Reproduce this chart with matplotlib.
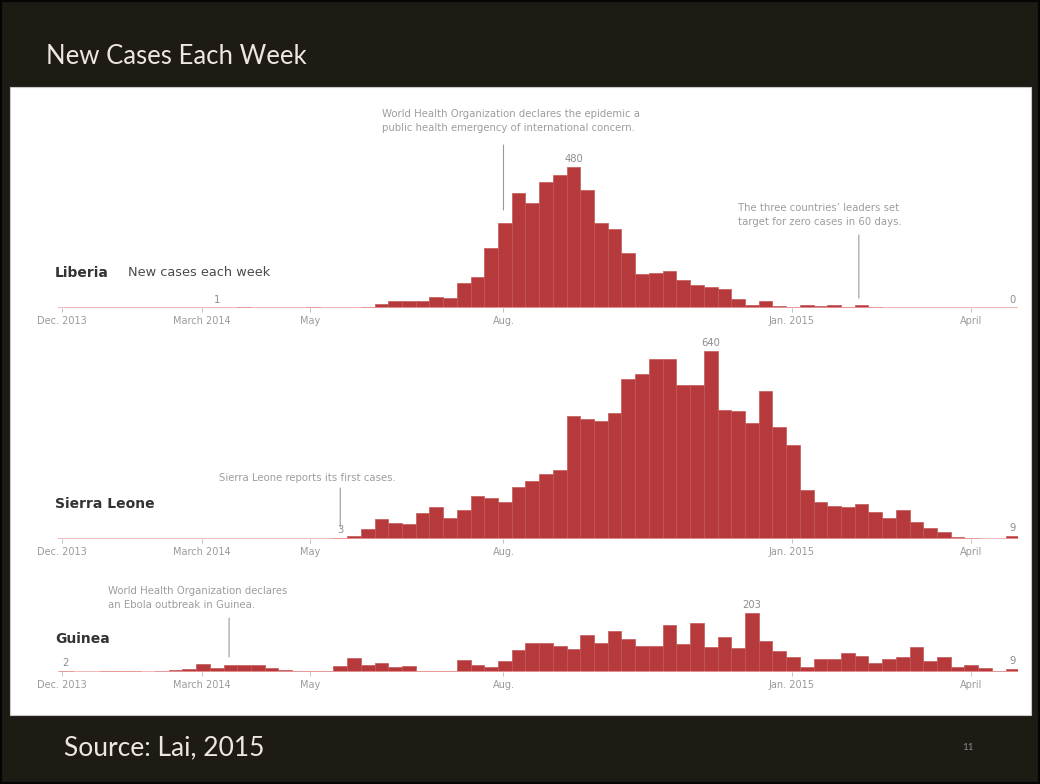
import matplotlib
matplotlib.use("Agg")
import matplotlib.pyplot as plt
from matplotlib.patches import Rectangle
from matplotlib.transforms import offset_copy

# Weekly new Ebola cases, one value per week from early December 2013 to April 2015
weeks = list(range(70))
liberia = [0, 0, 0, 0, 0, 0, 0, 0, 0, 0, 0,
           1, 0, 2, 1, 0, 0, 1, 3, 0, 0, 0,
           3, 14, 25, 24, 24, 36, 35, 85, 106, 206,
           289, 393, 360, 430, 455, 480, 403, 290, 270, 189,
           115, 119, 127, 97, 80, 72, 65, 31, 11, 23,
           6, 3, 11, 6, 10, 3, 9, 2, 0, 0,
           0, 0, 0, 0, 0, 0, 0, 0]
sierra_leone = [0, 0, 0, 0, 0, 0, 0, 0, 0, 0,
                0, 0, 0, 0, 0, 0, 0, 0, 0, 0,
                3, 10, 33, 67, 56, 50, 90, 108, 70, 99,
                147, 141, 127, 176, 197, 222, 236, 421, 409, 404,
                430, 546, 563, 615, 613, 525, 526, 640, 440, 438,
                396, 505, 381, 321, 167, 125, 113, 110, 118, 93,
                71, 99, 59, 36, 25, 6, 3, 1, 1, 9]
guinea = [2, 0, 0, 2, 2, 2, 1, 3, 6, 9,
          26, 15, 25, 25, 25, 14, 7, 5, 5, 4,
          20, 47, 23, 32, 18, 20, 3, 3, 3, 40,
          23, 18, 38, 74, 98, 100, 90, 78, 125, 98,
          140, 111, 89, 89, 159, 94, 166, 86, 118, 83,
          203, 106, 73, 50, 16, 43, 43, 66, 56, 32,
          46, 52, 86, 39, 50, 16, 24, 12, 5, 9]

countries = ["Liberia", "Sierra Leone", "Guinea"]
series = [liberia, sierra_leone, guinea]
# weeks whose value is written above the bar (first case, peak, latest week)
labelled_weeks = [[11, 37, 69], [20, 47, 69], [0, 50, 69]]

tick_weeks = [0.22, 10.4, 18.3, 32.4, 53.4, 66.5]
tick_labels = ["Dec. 2013", "March 2014", "May", "Aug.", "Jan. 2015", "April"]

events = [
    ("Liberia", 32.4, "World Health Organization declares the epidemic a\n"
                      "public health emergency of international concern."),
    ("Liberia", 58.3, "The three countries\u2019 leaders set\n"
                      "target for zero cases in 60 days."),
    ("Sierra Leone", 20.5, "Sierra Leone reports its first cases."),
    ("Guinea", 12.4, "World Health Organization declares\n"
                     "an Ebola outbreak in Guinea."),
]

# ---------------------------------------------------------------- layout
W, H = 1040, 784
DPI = 100
SLIDE_BG = "#1e1a14"
BAR = "#b63a3c"
PX_PER_CASE = 0.293

fig = plt.figure(figsize=(W / DPI, H / DPI), dpi=DPI, facecolor=SLIDE_BG)


def fig_box(x0, y0, x1, y1):
    """Pixel box (top-left origin) -> figure fraction rect."""
    return [x0 / W, 1 - y1 / H, (x1 - x0) / W, (y1 - y0) / H]


def fx(x):
    return x / W


def fy(y):
    return 1 - y / H


# white content panel, kept beneath the axes
fig.patches.append(Rectangle((fx(10), fy(715)), (1031 - 10) / W, (715 - 87) / H,
                             transform=fig.transFigure, facecolor="white",
                             edgecolor="#c8c8c8", linewidth=0.8, zorder=-10))
# thin dark frame round the slide
fig.patches.append(Rectangle((0, 0), 1, 1, transform=fig.transFigure,
                             facecolor="none", edgecolor="#050505",
                             linewidth=3, zorder=-9))

fig.text(fx(46), fy(64), "New Cases Each Week", family="Lato", fontsize=18.5,
         color="#ece8e0", ha="left", va="baseline")
fig.text(fx(64), fy(755), "Source: Lai, 2015", family="Lato", fontsize=19,
         color="#ece8e0", ha="left", va="baseline")
fig.text(fx(968), fy(748), "11", family="Lato", fontsize=7,
         color="#8a8a8a", ha="center", va="center")

# panel boxes in pixels: (top, baseline)
panel_px = {"Liberia": (130, 308), "Sierra Leone": (330, 539), "Guinea": (585, 672)}
X_LEFT, X_RIGHT = 58, 1018
XLIM = (-0.07, 69.9)

axes = {}
for name, values, lab in zip(countries, series, labelled_weeks):
    top, base = panel_px[name]
    ax = fig.add_axes(fig_box(X_LEFT, top, X_RIGHT, base))
    ax.set_facecolor("none")
    ax.bar(weeks, values, width=1.0, align="edge", color=BAR,
           edgecolor="#c45658", linewidth=0.5, zorder=2)
    ax.axhline(0, color="#f0a6a6", linewidth=1.1, zorder=3)
    ax.set_xlim(*XLIM)
    ax.set_ylim(0, (base - top) / PX_PER_CASE)
    for s in ax.spines.values():
        s.set_visible(False)
    ax.set_yticks([])
    ax.set_xticks(tick_weeks, tick_labels)
    ax.tick_params(axis="x", direction="out", length=3, width=0.6,
                   color="#b5b5b5", labelcolor="#9a9a9a", labelsize=7.0, pad=3)

    for w in lab:
        ax.annotate(str(values[w]), xy=(w + 0.5, values[w]), xytext=(0, 3),
                    textcoords="offset pixels", ha="center", va="bottom",
                    fontsize=7.2, color="#8c8c8c", zorder=4)

    fig.text(fx(55), fy(base - 35 if name != "Guinea" else base - 33), name,
             fontsize=10, fontweight="bold", color="#333333",
             ha="left", va="center")
    axes[name] = ax

fig.text(fx(128), fy(273), "New cases each week", fontsize=9.3,
         color="#4a4a4a", ha="left", va="center")


def lifted(ax, dx, dy):
    return offset_copy(ax.transData, fig=fig, x=dx, y=dy, units="dots")


# event annotations: (line bottom, line top, text centre) in px above baseline
event_px = [(98, 163, 187), (10, 73, 93), (12, 51, 61), (15, 54, 74)]
for (name, wk, txt), (lo, hi, tc) in zip(events, event_px):
    ax = axes[name]
    ax.annotate("", xy=(wk, 0), xycoords=lifted(ax, 0, lo),
                xytext=(wk, 0), textcoords=lifted(ax, 0, hi),
                arrowprops=dict(arrowstyle="-", color="#9a9a9a", lw=0.8,
                                shrinkA=0, shrinkB=0), zorder=4)
    ax.text(wk, 0, txt, transform=lifted(ax, -121, tc), ha="left",
            va="center", fontsize=7.3, color="#9d9d9d", linespacing=1.45,
            zorder=4)

fig.savefig("out.png", dpi=DPI, facecolor=SLIDE_BG)
